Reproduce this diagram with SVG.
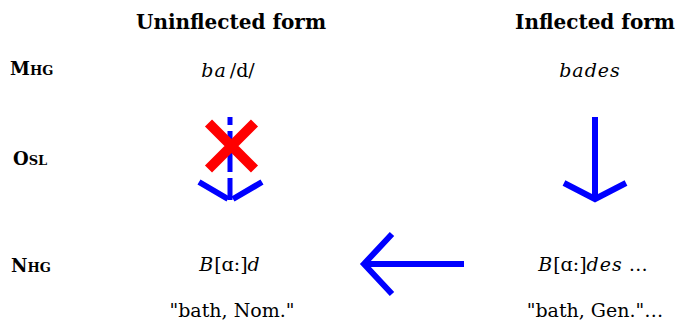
<svg xmlns="http://www.w3.org/2000/svg" width="676" height="322" viewBox="0 0 676 322">
<style>
text{font-family:"DejaVu Serif","Liberation Serif",serif;fill:#000}
.h{font-weight:bold;font-size:20px;text-anchor:middle}
.r{font-weight:bold;font-size:18px}
.sc{font-size:13px}
.f{font-size:19px;text-anchor:middle}
.i{font-style:italic;letter-spacing:1px}
.arr{stroke:#00f;stroke-width:6;fill:none}
</style>
<rect width="676" height="322" fill="#fff"/>
<g id="headers">
<text class="h" x="231" y="29">Uninflected form</text>
<text class="h" x="595" y="29">Inflected form</text>
</g>
<g id="rows">
<text class="r" x="10" y="75">M<tspan class="sc">HG</tspan></text>
<text class="r" x="13" y="165">O<tspan class="sc">SL</tspan></text>
<text class="r" x="11" y="272">N<tspan class="sc">HG</tspan></text>
</g>
<g id="mhg-uninfl"><text class="f" x="228" y="77"><tspan class="i">ba</tspan><tspan dx="3">/d/</tspan></text></g>
<g id="mhg-infl"><text class="f i" x="590" y="77" letter-spacing="1.5">bades</text></g>
<g id="nhg-uninfl"><text class="f" x="230" y="271"><tspan class="i">B</tspan>[ɑ:]<tspan class="i">d</tspan></text></g>
<g id="nhg-infl"><text class="f" x="593" y="271"><tspan class="i">B</tspan>[ɑ:]<tspan class="i">des</tspan> …</text></g>
<g id="gloss-uninfl"><text class="f" x="232" y="317">"bath, Nom."</text></g>
<g id="gloss-infl"><text class="f" x="595" y="317">"bath, Gen."…</text></g>
<g id="connectors">
<path d="M230,117V125M230,131V172M230,178V200" stroke="#00f" stroke-width="5" fill="none"/>
<path d="M199,182L228,199M262,182L233,199" stroke="#00f" stroke-width="6" fill="none"/>
<path d="M208.5,123L254.5,169M254.5,123L208.5,169" stroke="#f00" stroke-width="10" fill="none"/>
<path class="arr" d="M595,117V198M564,183L595,199L626,183"/>
<path class="arr" d="M464,264H366M392,234L364,264L392,294"/>
</g>
</svg>
